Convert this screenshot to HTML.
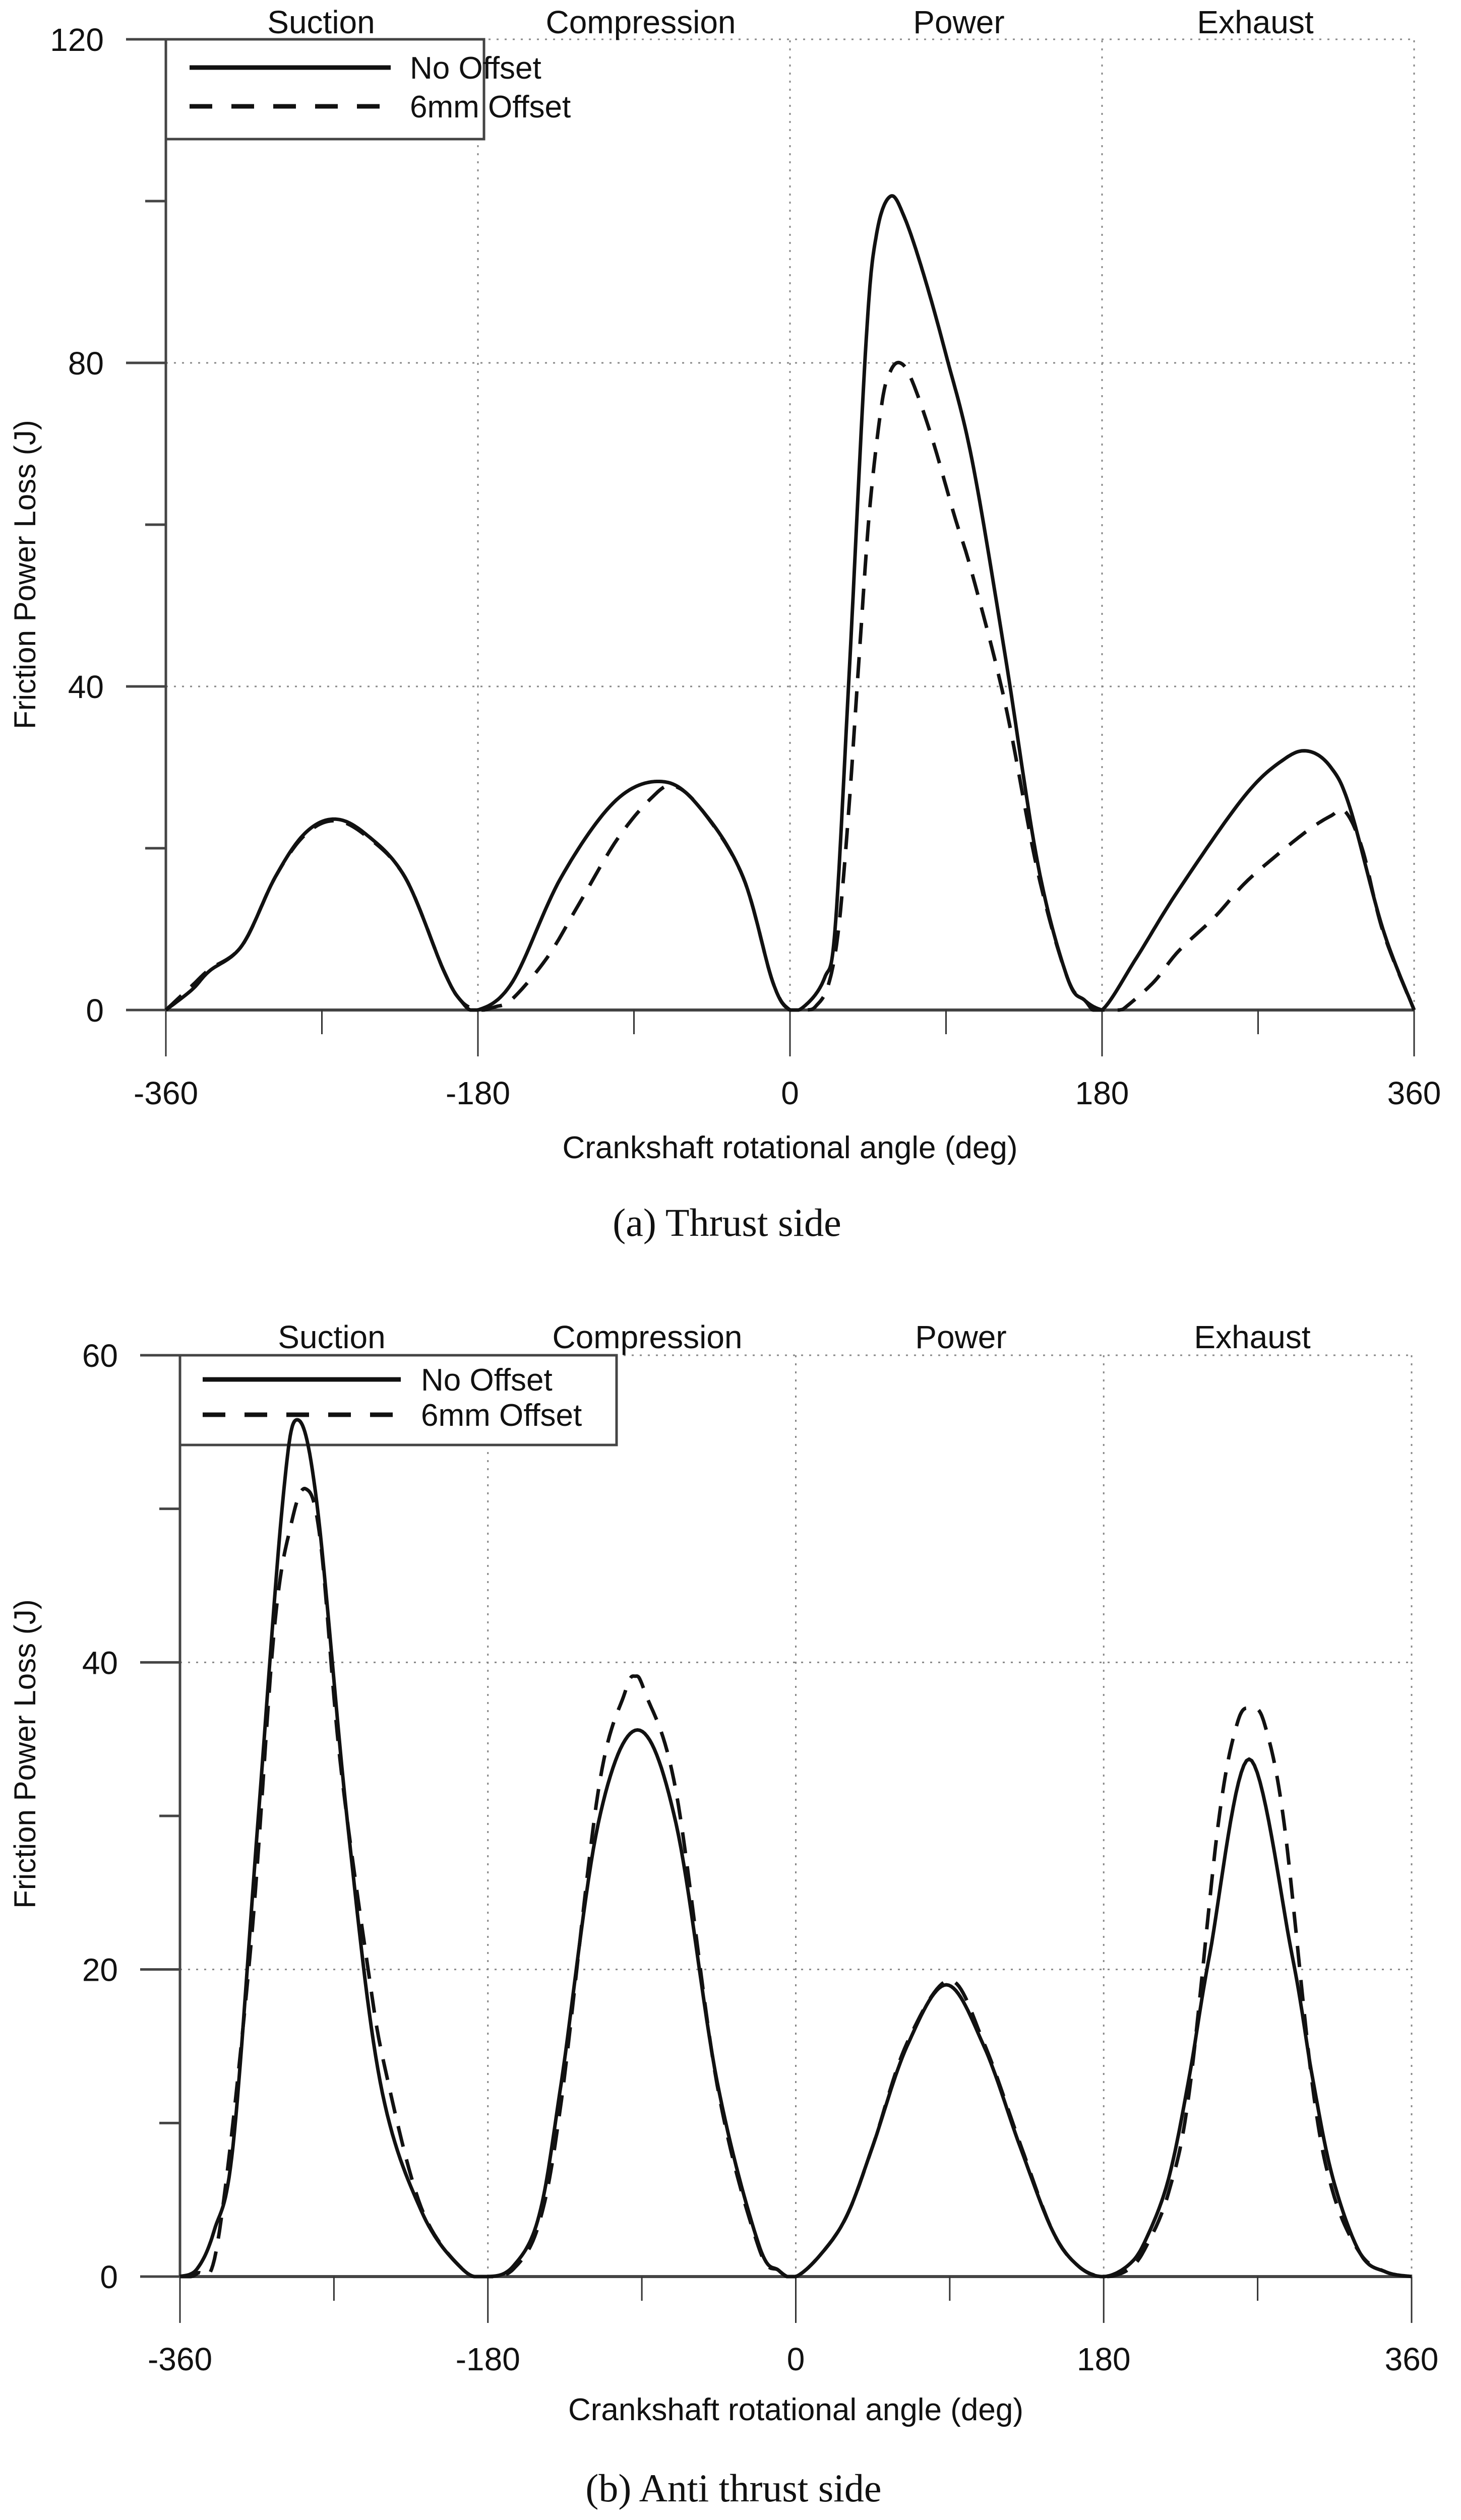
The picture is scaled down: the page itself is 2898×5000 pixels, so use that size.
<!DOCTYPE html>
<html><head><meta charset="utf-8">
<style>
html,body{margin:0;padding:0;background:#fff;}
svg{display:block;font-family:"Liberation Sans",Arial,sans-serif;}
.cap{font-family:"Liberation Serif",serif;}
</style></head>
<body>
<svg id="fig" width="2898" height="5000" viewBox="0 0 2898 5000" xmlns="http://www.w3.org/2000/svg"></svg>
<script>
// ---- shared axis data ----
const xTickLabels = ["-360","-180","0","180","360"];
const xTickValues = [-360,-180,0,180,360];
const xMinorValues = [-270,-90,90,270];
const phaseLabels = ["Suction","Compression","Power","Exhaust"];
const seriesNames = ["No Offset","6mm Offset"];

// ---- Chart (a) Thrust side data ----
const aYTicks = [0,40,80,120];
const aYMinor = [20,60,100];
const aNoOffsetAngle = [-360,-345,-335,-316,-297,-280,-263,-245,-222,-200,-190,-180,-160,-132,-100,-72,-50,-27,-10,0,10,20,26,34,44,50,58,66,77,90,105,124,143,160,170,180,200,224,262,285,299,312,323,342,360];
const aNoOffsetValue = [0,2.5,4.8,8,16.4,21.8,23.6,21.8,16.4,5,1.2,0,3.5,16.4,26,28.2,24.5,16.4,3.5,0,0.8,4,10,41,83,96,100.6,98,91,81,68,44,18,4,1.2,0,6.5,14.8,26.4,31,32,30,25,10,0];
const aOffsetAngle = [-360,-345,-335,-316,-297,-280,-263,-245,-222,-200,-190,-180,-170,-160,-140,-122,-100,-80,-67,-50,-27,-10,0,10,15,22,28,34,40,46,53,58,63.5,70,81.5,95,105,124,143,160,170,180,190,195,210,224,245,262,280,299,312,320,330,342,360];
const aOffsetValue = [0,3,5,8,16.4,21.6,23.4,21.6,16.4,5,1.2,0,0.4,1.4,6.5,13,21,26.2,27.7,24.5,16.4,3.5,0,0,0.5,3,10,25,44,62,75,79,80,78,71,61,54,38,17,4,1.2,0,0,0.6,3.5,7.25,11.5,15.6,19,22.25,24,24.6,20,9.75,0];

// ---- Chart (b) Anti thrust side data ----
const bYTicks = [0,20,40,60];
const bYMinor = [10,30,50];
const bNoOffsetAngle = [-360,-350,-340,-329,-314.5,-300,-291.5,-280,-262,-243,-219,-195,-180,-165,-150,-137,-115.5,-92.5,-70,-46,-22,-10,0,15,30,45,65,88,110,131,150,165,180,195,205,218,230,242,265,290,302,314,330,345,360];
const bNoOffsetValue = [0,0.5,3,8.5,29.5,50.4,55.8,50.4,29.5,12.7,4.3,0.5,0,0.7,4,12.7,29.5,35.6,29.5,12.7,2.2,0.4,0,1.5,4,8.5,15,19,15,8.5,3,0.7,0,0.8,2.5,6.4,13,21,33.7,21,13,6.4,1.5,0.3,0];
const bOffsetAngle = [-360,-350,-338,-319,-305,-295,-286.5,-278,-266.5,-250,-240,-219,-195,-180,-165,-150,-137,-115.5,-100,-94,-88,-70,-46,-22,-10,0,15,30,45,65,90,110,131,150,165,180,195,205,218,230,247,258,266,274,285.5,302,314,330,345,360];
const bOffsetValue = [0,0.2,2.2,21,42,49,51.3,48,33.7,20,13.5,4.5,0.5,0,0.5,3.5,11.5,31.6,38,39.1,38,31.6,12.5,2,0.4,0,1.5,4,8.5,15.2,19.3,15.2,8.7,3,0.7,0,0.5,2,5.5,12,29.5,36,37,36,29.5,12.5,5.5,1.5,0.3,0];

const NS = "http://www.w3.org/2000/svg";
const svg = document.getElementById('fig');
function mk(tag, attrs, parent){
  const e = document.createElementNS(NS, tag);
  for (const k in attrs) e.setAttribute(k, attrs[k]);
  (parent||svg).appendChild(e);
  return e;
}
function splinePath(xs, ys, sx, sy){
  const n = xs.length;
  const P = i => [sx(xs[Math.max(0,Math.min(n-1,i))]), sy(ys[Math.max(0,Math.min(n-1,i))])];
  const base = sy(0);
  let p = "M"+P(0)[0].toFixed(1)+","+P(0)[1].toFixed(1);
  for(let i=0;i<n-1;i++){
    const p0=P(i-1),p1=P(i),p2=P(i+1),p3=P(i+2);
    for(let k=1;k<=16;k++){
      const t=k/16,t2=t*t,t3=t2*t;
      const f=(a,b,c,d)=>0.5*((2*b)+(-a+c)*t+(2*a-5*b+4*c-d)*t2+(-a+3*b-3*c+d)*t3);
      let x=f(p0[0],p1[0],p2[0],p3[0]);
      let y=Math.min(base,f(p0[1],p1[1],p2[1],p3[1]));
      p+=" L"+x.toFixed(1)+","+y.toFixed(1);
    }
  }
  return p;
}

function chart(cfg){
  const g = mk('g',{});
  
  
  const sx = v => cfg.x0 + (v+360)/720*(cfg.x1-cfg.x0);
  const sy = v => cfg.y0 - v/cfg.ymax*(cfg.y0-cfg.y1);
  cfg.yTicks.forEach(v=>{ if(v===0) return;
    const l=mk('line',{x1:cfg.x0,x2:cfg.x1,y1:sy(v),y2:sy(v),stroke:'#888','stroke-width':3,'stroke-dasharray':'4 12'},g);
     
  });
  xTickValues.forEach(v=>{ if(v===-360) return;
    const l=mk('line',{x1:sx(v),x2:sx(v),y1:cfg.y0,y2:cfg.y1,stroke:'#888','stroke-width':3,'stroke-dasharray':'4 12'},g);
     
  });
  const ax=mk('line',{x1:cfg.x0,x2:cfg.x1,y1:cfg.y0,y2:cfg.y0,stroke:'#444','stroke-width':6},g);
   
  const ay=mk('line',{x1:cfg.x0,x2:cfg.x0,y1:cfg.y0,y2:cfg.y1,stroke:'#444','stroke-width':5},g);
   
  xTickValues.forEach((v,i)=>{
    const t=mk('line',{x1:sx(v),x2:sx(v),y1:cfg.y0,y2:cfg.y0+92,stroke:'#333','stroke-width':3},g);
     
    const tx=mk('text',{x:sx(v),y:cfg.xLabY,'font-size':64,'text-anchor':'middle',fill:'#111'},g);
    tx.textContent=xTickLabels[i];
     
  });
  xMinorValues.forEach(v=>{
    const t=mk('line',{x1:sx(v),x2:sx(v),y1:cfg.y0,y2:cfg.y0+48,stroke:'#333','stroke-width':3},g);
     
  });
  cfg.yTicks.forEach(v=>{
    const t=mk('line',{x1:cfg.x0-79,x2:cfg.x0,y1:sy(v),y2:sy(v),stroke:'#444','stroke-width':5},g);
     
    const tx=mk('text',{x:cfg.yLabX,y:sy(v)+23,'font-size':64,'text-anchor':'end',fill:'#111'},g);
    tx.textContent=String(v);
     
  });
  cfg.yMinor.forEach(v=>{
    const t=mk('line',{x1:cfg.x0-41,x2:cfg.x0,y1:sy(v),y2:sy(v),stroke:'#444','stroke-width':5},g);
     
  });
  phaseLabels.forEach((s,i)=>{
    const tx=mk('text',{x:cfg.phaseX[i],y:cfg.phaseY,'font-size':64,'text-anchor':'middle',fill:'#111'},g);
    tx.textContent=s;
     
  });
  // legend (drawn before series, curves pass over it)
  const lg=mk('g',{},g);
   
  mk('rect',{x:cfg.x0,y:cfg.y1,width:cfg.legW,height:cfg.legH,fill:'#fff',stroke:'#444','stroke-width':5},lg);
  seriesNames.forEach((nm,i)=>{
    const yy=cfg.legY[i];
    const ln=mk('line',{x1:cfg.legLX[0],x2:cfg.legLX[1],y1:yy,y2:yy,stroke:'#111','stroke-width':9},lg);
    if(i===1) ln.setAttribute('stroke-dasharray','45 38');
     
    const tx=mk('text',{x:cfg.legTX,y:yy+22,'font-size':62,fill:'#111'},lg);
    tx.textContent=nm;
     
  });
  const s1=mk('path',{d:splinePath(cfg.a1,cfg.v1,sx,sy),fill:'none',stroke:'#111','stroke-width':7,'stroke-linejoin':'round'},g);
   
  const s2=mk('path',{d:splinePath(cfg.a2,cfg.v2,sx,sy),fill:'none',stroke:'#111','stroke-width':7,'stroke-dasharray':'42 26'},g);
   
  const xt=mk('text',{x:(cfg.x0+cfg.x1)/2,y:cfg.xTitleY,'font-size':62,'text-anchor':'middle',fill:'#111'},g);
  xt.textContent='Crankshaft rotational angle (deg)';
   
  const yt=mk('text',{x:0,y:0,'font-size':60,'text-anchor':'middle',fill:'#111',transform:'translate(70,'+cfg.yTitleC+') rotate(-90)'},g);
  yt.textContent='Friction Power Loss (J)';
   
  const cp=mk('text',{x:cfg.capX,y:cfg.capY,'font-size':78,'text-anchor':'middle',fill:'#111','class':'cap'},g);
  cp.textContent=cfg.caption;
   
}

chart({name:'thrust-side-chart',x0:329,x1:2805,y0:2004,y1:78,ymax:120,yTicks:aYTicks,yMinor:aYMinor,
  a1:aNoOffsetAngle,v1:aNoOffsetValue,a2:aOffsetAngle,v2:aOffsetValue,
  xLabY:2191,yLabX:206,phaseX:[637,1271,1902,2490],phaseY:66,
  legW:631,legH:198,legY:[134,211],legLX:[376,775],legTX:813,
  xTitleY:2298,yTitleC:1140,capX:1442,capY:2452,caption:'(a) Thrust side'});
chart({name:'anti-thrust-side-chart',x0:357,x1:2800,y0:4517,y1:2689,ymax:60,yTicks:bYTicks,yMinor:bYMinor,
  a1:bNoOffsetAngle,v1:bNoOffsetValue,a2:bOffsetAngle,v2:bOffsetValue,
  xLabY:4703,yLabX:234,phaseX:[658,1284,1906,2484],phaseY:2675,
  legW:866,legH:178,legY:[2737,2807],legLX:[402,795],legTX:835,
  xTitleY:4802,yTitleC:3480,capX:1455,capY:4963,caption:'(b) Anti thrust side'});
</script>
</body></html>
